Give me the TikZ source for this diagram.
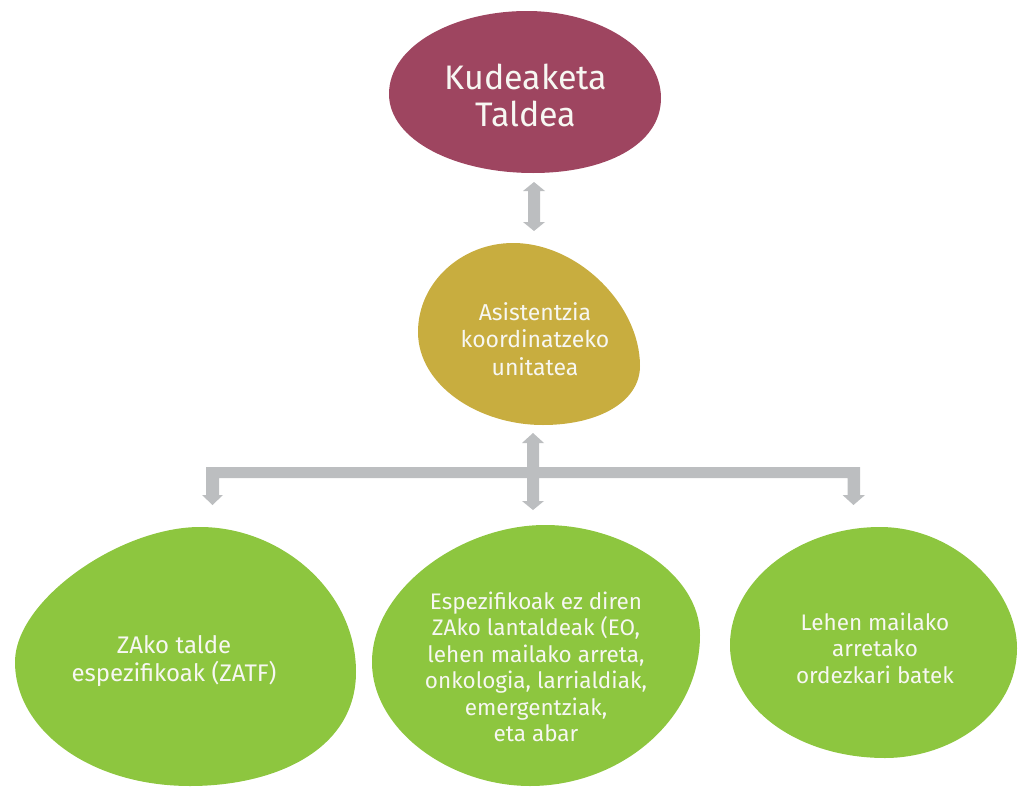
\documentclass[tikz,border=0pt]{standalone}
\usepackage{fontspec}
\setmainfont{Fira Sans}
\definecolor{teamred}{HTML}{9E4560}
\definecolor{unitgold}{HTML}{C8AD3F}
\definecolor{groupgreen}{HTML}{8DC63F}
\definecolor{linkgray}{HTML}{BCBEC0}
\definecolor{labelwhite}{HTML}{F7F7F2}
\tikzset{
  label/.style={text=labelwhite, align=center, inner sep=0pt},
  bigtext/.style={label, font=\fontsize{34}{37}\selectfont},
  midtext/.style={label, font=\fontsize{23}{27.5}\selectfont},
  smalltext/.style={label, font=\fontsize{22.5}{26.5}\selectfont},
  link/.style={fill=linkgray}
}
\begin{document}
\begin{tikzpicture}[x=1pt,y=-1pt]
\useasboundingbox (0,0) rectangle (1018,787);

% management team
\fill[teamred] (389,94) .. controls (389,45) and (455,11) .. (527,11)
  .. controls (600,11) and (661,50) .. (661,98)
  .. controls (661,145) and (605,173) .. (533,173)
  .. controls (455,173) and (389,140) .. (389,94) -- cycle;
\node[bigtext] (team) at (526,95) {Kudeaketa\\Taldea};

% coordination unit
\fill[unitgold] (418,332) .. controls (418,282) and (462,243) .. (513,243)
  .. controls (578,243) and (640,305) .. (640,366)
  .. controls (640,402) and (598,425) .. (543,425)
  .. controls (478,425) and (418,385) .. (418,332) -- cycle;
\node[midtext] (unit) at (535,339) {Asistentzia\\koordinatzeko\\unitatea};

% working groups
\fill[groupgreen] (15,662) .. controls (15,600) and (120,527) .. (200,527)
  .. controls (280,527) and (356,590) .. (356,672)
  .. controls (356,750) and (275,786) .. (190,786)
  .. controls (90,786) and (15,730) .. (15,662) -- cycle;
\node[smalltext, font=\fontsize{24}{27.5}\selectfont] (zatf) at (174,661) {ZAko talde\\espezifikoak (ZATF)};

\fill[groupgreen] (372,662) .. controls (372,590) and (460,525) .. (545,525)
  .. controls (625,525) and (700,575) .. (700,635)
  .. controls (700,720) and (620,786) .. (530,786)
  .. controls (450,786) and (372,730) .. (372,662) -- cycle;
\node[smalltext] (groups) at (536,667) {Espezifikoak ez diren\\ZAko lantaldeak (EO,\\lehen mailako arreta,\\onkologia, larrialdiak,\\emergentziak,\\eta abar};

\fill[groupgreen] (730,645) .. controls (730,580) and (800,527) .. (880,527)
  .. controls (955,527) and (1017,590) .. (1017,648)
  .. controls (1017,715) and (950,758) .. (885,758)
  .. controls (800,758) and (730,710) .. (730,645) -- cycle;
\node[smalltext] (primary) at (875,648) {Lehen mailako\\arretako\\ordezkari batek};

% connectors: two-way arrow between team and unit
\coordinate (a1) at (534,182);
\coordinate (a2) at (534,231);
\fill[link] (a1) -- ++(11,9) -- ++(-5,0) -- ++(0,31) -- ++(5,0) -- (a2) -- ++(-11,-9) -- ++(5,0) -- ++(0,-31) -- ++(-5,0) -- cycle;

% branching connector from the unit to the groups
\coordinate (b1) at (533,433);
\coordinate (b2) at (533,510);
\coordinate (bl) at (212.5,505);
\coordinate (br) at (853.5,505);
\fill[link] (b1) -- ++(11,10) -- ++(-5,0) -- ++(0,24) -- (860,467) -- (860,495) -- ++(5,0) -- (br) -- ++(-11,-10) -- ++(5,0) -- ++(0,-17) -- (539,478) -- (539,501) -- ++(5,0) -- (b2) -- ++(-11,-9) -- ++(5,0) -- ++(0,-23) -- (219,478) -- (219,495) -- ++(4,0) -- (bl) -- ++(-10.5,-10) -- ++(4,0) -- (206,467) -- (527,467) -- (527,443) -- ++(-5,0) -- cycle;
\end{tikzpicture}
\end{document}
